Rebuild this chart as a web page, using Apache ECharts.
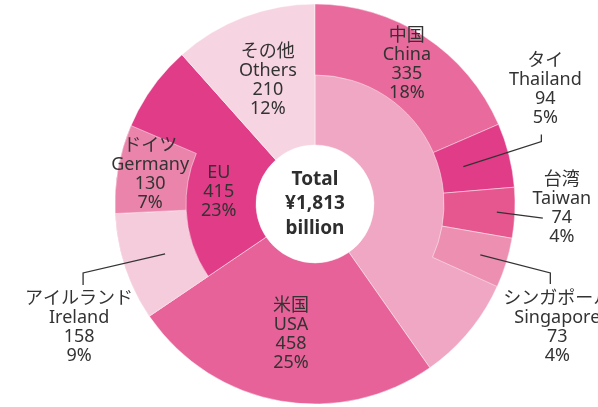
<!DOCTYPE html>
<html>
<head>
<meta charset="utf-8">
<script src="https://cdn.jsdelivr.net/npm/echarts@6/dist/echarts.min.js"></script>
<style>
  html, body { margin: 0; padding: 0; background: #fff; }
  #chart { width: 598px; height: 407px; }
</style>
</head>
<body>
<div id="chart"></div>
<script>
// Regions (inner ring, ¥ billion)
const regionNames = ['Asia', 'USA', 'EU', 'Others'];
const regionNamesJa = ['アジア', '米国', 'EU', 'その他'];
const regionValues = [730, 458, 415, 210];
const regionColors = ['#f0a7c3', '#e66298', '#e03c87', '#f7d4e1'];
const regionLabelShown = [false, true, false, true];

// Countries broken out of their region (outer ring)
const countryNames = ['China', 'Thailand', 'Taiwan', 'Singapore', 'Ireland', 'Germany'];
const countryNamesJa = ['中国', 'タイ', '台湾', 'シンガポール', 'アイルランド', 'ドイツ'];
const countryValues = [335, 94, 74, 73, 158, 130];
const countryRegion = ['Asia', 'Asia', 'Asia', 'Asia', 'EU', 'EU'];
const countryColors = ['#e96a9c', '#e03c87', '#e7578f', '#ec8fb1', '#f5ccdb', '#ea84aa'];
const countryOutside = [false, true, true, true, true, false];

const total = regionValues.reduce((a, b) => a + b, 0);
const pct = v => Math.round(v / total * 100) + '%';
const labelText = (ja, en, v) => (ja === en ? [en] : [ja, en]).concat([String(v), pct(v)]).join('\n');

const CENTER = [315, 204];
const R_HOLE = 59, R_MID = 129, R_OUT = 200;
const TEXT = '#333333';
const FONT = "'Noto Sans', 'Noto Sans CJK JP', sans-serif";
const SEP = 'rgba(255,255,255,0.45)';

// Call-out geometry for labels placed outside the ring:
// leader starts `inset` px inside the outer edge on the slice's mid angle,
// runs by `bend`, then a short vertical `tick`; the label sits off its end.
const callouts = {
  Thailand:  { inset: 47, bend: [78, -25], tick: -7,  shift: [4, -7],   vAlign: 'bottom' },
  Taiwan:    { inset: 18, bend: [46, 6],   tick: 0,   shift: [19, -10], vAlign: 'middle' },
  Singapore: { inset: 27, bend: [70, 18],  tick: 11,  shift: [7, 5],    vAlign: 'top' },
  Ireland:   { inset: 42, bend: [-82, 19], tick: 12,  shift: [-4, 4],   vAlign: 'top' }
};
const calloutGeom = {};

// Full-depth region slices
const regionData = regionNames.map((n, i) => ({
  name: n,
  value: regionValues[i],
  itemStyle: { color: regionColors[i] },
  label: { show: regionLabelShown[i], formatter: labelText(regionNamesJa[i], n, regionValues[i]) }
}));

// Outer ring: countries, with the unlisted remainder of each region left see-through
const outerData = [];
regionNames.forEach((r, ri) => {
  let used = 0;
  countryNames.forEach((c, ci) => {
    if (countryRegion[ci] !== r) return;
    used += countryValues[ci];
    outerData.push({
      name: c,
      value: countryValues[ci],
      itemStyle: { color: countryColors[ci], borderColor: SEP, borderWidth: 1 },
      label: {
        show: true,
        position: countryOutside[ci] ? 'outside' : 'inside',
        formatter: labelText(countryNamesJa[ci], c, countryValues[ci])
      }
    });
  });
  outerData.push({
    name: r + ' rest',
    value: regionValues[ri] - used,
    itemStyle: { color: 'rgba(0,0,0,0)', borderWidth: 0 },
    label: { show: false }
  });
});

// Inner-ring label for EU sits at mid depth of the inner band
const innerLabelData = regionNames.map((n, i) => ({
  name: n,
  value: regionValues[i],
  itemStyle: { color: 'rgba(0,0,0,0)', borderWidth: 0 },
  label: { show: n === 'EU', formatter: labelText(regionNamesJa[i], n, regionValues[i]) }
}));

const labelBase = {
  color: TEXT,
  fontFamily: FONT,
  fontSize: 18,
  lineHeight: 19,
  align: 'center'
};

function buildOption(leaders) {
  return {
    animation: false,
    backgroundColor: '#ffffff',
    series: [
      {
        type: 'pie',
        name: 'regions',
        center: CENTER,
        radius: [R_HOLE, R_OUT],
        startAngle: 90,
        clockwise: true,
        silent: true,
        avoidLabelOverlap: false,
        itemStyle: { borderColor: SEP, borderWidth: 1 },
        label: Object.assign({ position: 'inside' }, labelBase),
        labelLine: { show: false },
        emphasis: { disabled: true },
        data: regionData
      },
      {
        type: 'pie',
        name: 'countries',
        center: CENTER,
        radius: [R_MID, R_OUT],
        startAngle: 90,
        clockwise: true,
        silent: true,
        avoidLabelOverlap: false,
        label: labelBase,
        labelLine: { show: false },
        emphasis: { disabled: true },
        labelLayout: function (params) {
          const item = outerData[params.dataIndex];
          const g = item && calloutGeom[item.name];
          if (!g) return {};
          return { x: g.labelPos[0], y: g.labelPos[1], align: 'center', verticalAlign: g.vAlign };
        },
        data: outerData
      },
      {
        type: 'pie',
        name: 'inner labels',
        center: CENTER,
        radius: [R_HOLE, R_MID],
        startAngle: 90,
        clockwise: true,
        silent: true,
        avoidLabelOverlap: false,
        label: Object.assign({ position: 'inside' }, labelBase),
        labelLine: { show: false },
        emphasis: { disabled: true },
        data: innerLabelData
      }
    ],
    graphic: [{
      type: 'text',
      x: CENTER[0],
      y: CENTER[1],
      silent: true,
      style: {
        text: 'Total\n¥' + total.toLocaleString('en-US') + '\nbillion',
        fill: '#2e2e2e',
        font: "bold 19px 'Noto Sans', sans-serif",
        lineHeight: 24.5,
        textAlign: 'center',
        textVerticalAlign: 'middle'
      }
    }].concat(leaders)
  };
}

const chart = echarts.init(document.getElementById('chart'), null, { renderer: 'canvas' });
chart.setOption(buildOption([]));

// Leader lines from each called-out slice's laid-out sector geometry
const outerSeriesData = chart.getModel().getSeriesByIndex(1).getData();
const leaders = [];
outerData.forEach((item, idx) => {
  const c = callouts[item.name];
  if (!c) return;
  const L = outerSeriesData.getItemLayout(idx);
  const mid = (L.startAngle + L.endAngle) / 2;
  const rr = L.r - c.inset;
  const s = [L.cx + rr * Math.cos(mid), L.cy + rr * Math.sin(mid)];
  const b = [s[0] + c.bend[0], s[1] + c.bend[1]];
  const e = [b[0], b[1] + c.tick];
  calloutGeom[item.name] = { labelPos: [e[0] + c.shift[0], e[1] + c.shift[1]], vAlign: c.vAlign };
  leaders.push({
    type: 'polyline',
    silent: true,
    z: 10,
    shape: { points: [s, b, e] },
    style: { stroke: TEXT, lineWidth: 1.3, fill: null }
  });
});
chart.setOption(buildOption(leaders), { notMerge: true });
</script>
</body>
</html>
